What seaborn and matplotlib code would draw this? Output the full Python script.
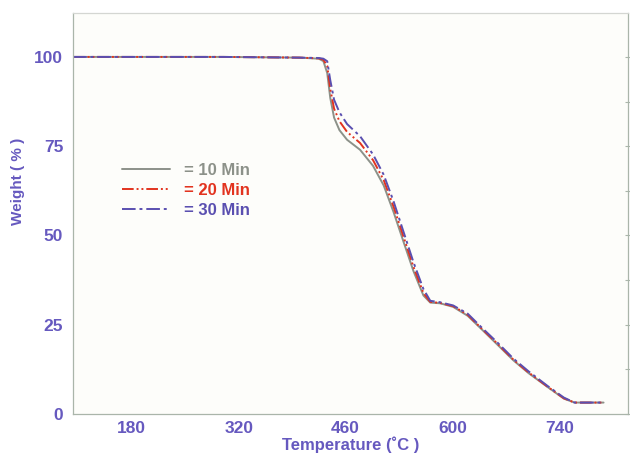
import matplotlib
matplotlib.use("Agg")
import matplotlib.pyplot as plt
import seaborn as sns
import pandas as pd
from matplotlib.ticker import FixedLocator

# ---- data ----
temperature = [103, 200, 300, 400, 425, 431, 436, 440, 445, 452, 462, 479, 496, 510,
               523, 536, 549, 562, 571, 584, 601, 620, 637, 660, 680, 700, 725, 746, 760, 798]
weight_10min = [100, 100, 100, 99.8, 99.5, 98.8, 95.5, 88.5, 83.0, 79.5, 76.8, 74.0, 69.5, 64.0,
                56.5, 48.2, 40.0, 33.2, 31.2, 31.0, 30.0, 27.5, 24.0, 19.2, 15.0, 11.4, 7.5, 4.3, 3.2, 3.2]
weight_20min = [100, 100, 100, 99.8, 99.6, 99.2, 97.5, 91.0, 85.5, 82.0, 79.0, 75.9, 71.1, 65.5,
                58.0, 49.6, 41.2, 33.9, 31.4, 31.1, 30.2, 27.8, 24.2, 19.5, 15.2, 11.6, 7.6, 4.4, 3.2, 3.2]
weight_30min = [100, 100, 100, 99.8, 99.7, 99.5, 98.8, 93.5, 88.0, 84.5, 81.2, 77.8, 72.7, 67.0,
                59.5, 51.0, 42.5, 35.0, 31.7, 31.3, 30.4, 28.1, 24.5, 19.8, 15.5, 11.9, 7.8, 4.6, 3.2, 3.2]
series_labels = ["= 10 Min", "= 20 Min", "= 30 Min"]
x_ticks = [180, 320, 460, 600, 740]
x_minor = [110, 250, 390, 530, 670, 810]
y_ticks = [0, 25, 50, 75, 100]
y_minor = [12.5, 37.5, 62.5, 87.5]

# ---- style ----
sns.set_style("white")
plt.rcParams["font.family"] = ["Liberation Sans", "DejaVu Sans"]

label_col = "#6659bf"
spine_col = "#aab5aa"
colors = ["#8c9189", "#e2331f", "#5a4fb0"]
styles = ["-", (0, (6, 1.5, 1, 1.5, 1, 1.5)), (0, (7, 2, 1.5, 2))]

fig = plt.figure(figsize=(6.3, 4.57), dpi=100)
fig.patch.set_facecolor("white")
ax = fig.add_axes([73 / 630, 1 - 414 / 457, 555 / 630, 401 / 457])
ax.set_facecolor("#fdfdfa")

df = pd.DataFrame({
    "T": temperature * 3,
    "W": weight_10min + weight_20min + weight_30min,
    "s": [series_labels[0]] * len(temperature) + [series_labels[1]] * len(temperature)
         + [series_labels[2]] * len(temperature),
})

for lab, col, ls in zip(series_labels, colors, styles):
    sub = df[df["s"] == lab]
    sns.lineplot(data=sub, x="T", y="W", ax=ax, color=col, linewidth=1.4,
                 linestyle=ls, label=lab, sort=False, estimator=None)

ax.set_xlim(103, 830)
ax.set_ylim(0, 112.3)

ax.xaxis.set_major_locator(FixedLocator(x_ticks))
ax.xaxis.set_minor_locator(FixedLocator(x_minor))
ax.yaxis.set_major_locator(FixedLocator(y_ticks))
ax.yaxis.set_minor_locator(FixedLocator(y_minor))
ax.set_xticklabels([str(v) for v in x_ticks])
ax.set_yticklabels([str(v) for v in y_ticks])

ax.tick_params(axis="both", which="both", direction="inout", length=4, width=0.8,
               color=spine_col, right=True, labelright=False)
ax.tick_params(axis="both", which="major", labelsize=12.5, labelcolor=label_col, pad=5)
ax.tick_params(axis="x", which="major", pad=3)
for t in ax.get_xticklabels() + ax.get_yticklabels():
    t.set_fontweight("bold")

for s in ax.spines.values():
    s.set_color(spine_col)
    s.set_linewidth(0.9)
ax.spines["top"].set_color("#d4d6d2")

ax.set_xlabel("Temperature (˚C )", fontsize=12, fontweight="bold", color=label_col)
ax.xaxis.set_label_coords(0.5, -0.056)
ax.set_ylabel("Weight ( % )", fontsize=11, fontweight="bold", color=label_col)
ax.yaxis.set_label_coords(-0.087, 0.58)

leg = ax.legend(loc="upper left", bbox_to_anchor=(0.088, 0.627), frameon=False,
                handlelength=2.9, handletextpad=0.8, labelspacing=0.3, borderpad=0,
                borderaxespad=0, prop={"weight": "bold", "size": 12})
for txt, col in zip(leg.get_texts(), colors):
    txt.set_color(col)

fig.savefig("out.png", dpi=100)
